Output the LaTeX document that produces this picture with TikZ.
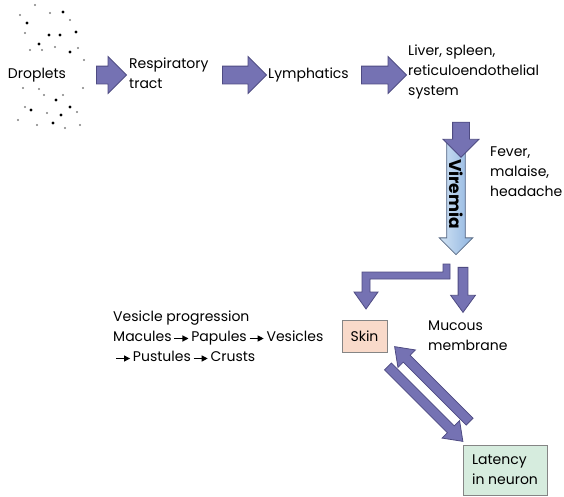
\documentclass[tikz,border=0pt]{standalone}
\usepackage{fontspec}
\setmainfont{Poppins}
\usetikzlibrary{arrows.meta, shapes.arrows, positioning, calc}

\definecolor{arrowfill}{HTML}{7572B3}
\definecolor{arrowline}{HTML}{4E4B82}
\definecolor{virtop}{HTML}{D2E3F4}
\definecolor{virbot}{HTML}{8EB4E0}
\definecolor{virline}{HTML}{5E7088}
\definecolor{skinfill}{HTML}{F9DACA}
\definecolor{latfill}{HTML}{D6ECDE}
\definecolor{boxline}{HTML}{858585}

% small arrow between the vesicle stages
\newcommand\stage{\,\tikz[baseline=-0.35ex]\draw[line width=1.1pt,-{Triangle[length=6pt,width=6pt]}] (0pt,0pt) -- (14pt,0pt);\,}

\begin{document}
\begin{tikzpicture}[
  x=1pt, y=-1pt, font=\fontsize{14}{20}\selectfont,
  txt/.style = {align=left, inner sep=0pt},
  fat/.style = {single arrow, draw=arrowline, fill=arrowfill, line width=0.8pt,
    inner xsep=0pt, inner ysep=8.5pt, single arrow head extend=9.5pt, single arrow tip angle=90},
  slim/.style = {fat, inner ysep=4.5pt, single arrow head extend=7.5pt, single arrow tip angle=72},
  vir/.style = {fat, draw=virline, left color=virtop, right color=virbot,
    inner ysep=2pt, single arrow head extend=7.5pt, font=\fontsize{17}{18}\selectfont\bfseries},
  box/.style = {draw=boxline, line width=0.8pt, inner sep=4pt}
  ]
  \useasboundingbox (0,0) rectangle (564,496);

  % droplets
  \foreach \x/\y/\r/\c in {63/12/1.6/black, 50/13/1.2/gray, 27/23/1.6/black, 70/20/1.2/gray,
      25/33/1.2/gray, 49/35/1.6/black, 60/35/1.6/black, 76/32/1.6/black, 39/44/1.6/black,
      55/47/1.2/gray, 70/52/1.6/black, 78/48/1.2/gray, 30/50/1.2/gray, 42/50/1.2/gray,
      23/88/1.2/gray, 39/89/1.2/gray, 83/88/1.2/gray, 63/95/1.2/gray, 56/100/1.6/black,
      31/110/1.6/black, 70/107/1.6/black, 47/113/1.2/gray, 61/115/1.6/black, 25/107/1.2/gray,
      37/125/1.2/gray, 53/123/1.6/black, 65/128/1.2/gray, 77/112/1.2/gray, 20/15/1.2/gray,
      84/60/1.2/gray, 35/5/1.2/gray, 44/95/1.2/gray, 18/120/1.2/gray, 80/125/1.2/gray}
    \fill[\c] (\x,\y) circle (\r);
  \node[txt] (@drop) at (37,75) {Droplets};

  % route to the blood
  \node[fat, minimum height=30pt] (@a1) at (107,75) {};
  \node[txt, anchor=west] (@resp) at (129,73) {Respiratory\\tract};
  \node[fat, minimum height=44pt] (@a2) at (240,75) {};
  \node[txt, anchor=west] (@lymph) at (268,75) {Lymphatics};
  \node[fat, minimum height=45pt] (@a3) at (379.5,75) {};
  \node[txt, anchor=west] (@liver) at (408,72) {Liver, spleen,\\reticuloendothelial\\system};

  \node[vir, minimum height=112pt, rotate=-90] (@vir) at (456,194) {Viremia};
  \node[fat, minimum height=35pt, inner ysep=8pt, single arrow head extend=9.5pt, rotate=-90] (@a4) at (461,135.5) {};
  \node[txt, anchor=west] (@fever) at (490,172) {Fever,\\malaise,\\headache};

  % split to skin and mucosa
  \draw[draw=arrowline, fill=arrowfill, line width=0.8pt]
    (443,264) -- (450,264) -- (450,279) -- (370,279) -- (370,292) -- (378,292)
    -- (366,309) -- (354,292) -- (362,292) -- (362,272) -- (443,272) -- cycle;
  \node[slim, minimum height=45pt, rotate=-90] (@a6) at (463,286.5) {};

  \node[box, fill=skinfill, minimum width=45pt, minimum height=32pt] (@skin) at (364.5,336) {Skin};
  \node[txt, anchor=west] (@muc) at (428,336) {Mucous\\membrane};
  \node[txt, anchor=west] (@ves) at (113,336)
    {Vesicle progression\\Macules\stage Papules\stage Vesicles\\\stage Pustules\stage Crusts};

  \node[box, fill=latfill, minimum width=84pt, minimum height=50pt, align=left] (@lat) at (505,470)
    {Latency\\in neuron};
  \node[slim, minimum height=106pt, rotate=-45] (@a7) at (423,401.5) {};
  \node[slim, minimum height=106pt, rotate=135] (@a8) at (434.5,386.5) {};
\end{tikzpicture}
\end{document}
